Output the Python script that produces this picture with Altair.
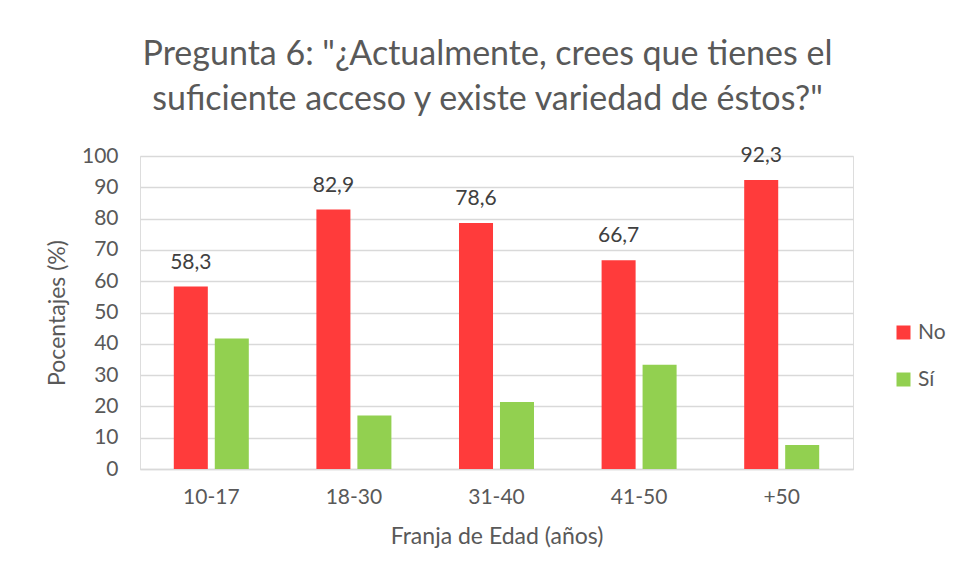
import altair as alt
import pandas as pd

categories = ["10-17", "18-30", "31-40", "41-50", "+50"]
no_values = [58.3, 82.9, 78.6, 66.7, 92.3]
si_values = [41.7, 17.1, 21.4, 33.3, 7.7]
series = ["No", "Sí"]
colors = ["#FF3B3B", "#92D050"]

rows = []
for c, n, s in zip(categories, no_values, si_values):
    rows.append({"cat": c, "serie": "No", "val": n})
    rows.append({"cat": c, "serie": "Sí", "val": s})
df = pd.DataFrame(rows)

FONT = "Lato"
TXT = "#595959"

x = alt.X("cat:N", sort=categories,
          scale=alt.Scale(paddingInner=0.474, paddingOuter=0.237),
          axis=alt.Axis(title="Franja de Edad (años)", labelAngle=0, labelFontSize=21,
                        labelColor=TXT, labelFont=FONT, labelPadding=17, ticks=False,
                        domainColor="#D9D9D9", domainWidth=1.5, titleFontSize=23,
                        titleFont=FONT, titleColor=TXT, titleFontWeight="normal",
                        titlePadding=18))
xo = alt.XOffset("serie:N", sort=series, scale=alt.Scale(paddingInner=0.17, paddingOuter=0))
y = alt.Y("val:Q", scale=alt.Scale(domain=[0, 100]),
          axis=alt.Axis(title="Pocentajes (%)", values=list(range(0, 101, 10)),
                        labelFontSize=21, labelColor=TXT, labelFont=FONT, labelPadding=22,
                        ticks=False, domain=False, gridColor="#D9D9D9", gridWidth=1.5,
                        titleFontSize=23, titleFont=FONT, titleColor=TXT,
                        titleFontWeight="normal", titlePadding=12))

bars = alt.Chart(df).mark_bar().encode(
    x=x, xOffset=xo, y=y,
    color=alt.Color("serie:N", sort=series,
                    scale=alt.Scale(domain=series, range=colors),
                    legend=alt.Legend(title=None, orient="none", legendX=753, legendY=166,
                                      symbolType="square", symbolSize=196,
                                      symbolStrokeWidth=0, labelFontSize=21,
                                      labelFont=FONT, labelColor=TXT, rowPadding=25,
                                      labelOffset=4)),
)

labels = alt.Chart(df).transform_filter(alt.datum.serie == "No").transform_calculate(
    lab="replace(format(datum.val, '.1f'), '.', ',')"
).mark_text(fontSize=21, font=FONT, color="#404040", baseline="middle", dy=-24).encode(
    x=x, xOffset=xo, y=y, text="lab:N"
)

chart = alt.layer(bars, labels).properties(
    width=713, height=313,
    title=alt.TitleParams(
        text=['Pregunta 6: "¿Actualmente, crees que tienes el',
              'suficiente acceso y existe variedad de éstos?"'],
        fontSize=34, font=FONT, color=TXT, fontWeight="normal", lineHeight=45,
        anchor="middle", dx=-9, offset=28),
    autosize=alt.AutoSizeParams(type="none"),
    padding={"left": 132, "top": 148, "right": 95, "bottom": 104},
).configure_view(stroke=None).configure(background="white")

chart.save("out.html", embed_options={"renderer": "svg", "actions": False})
